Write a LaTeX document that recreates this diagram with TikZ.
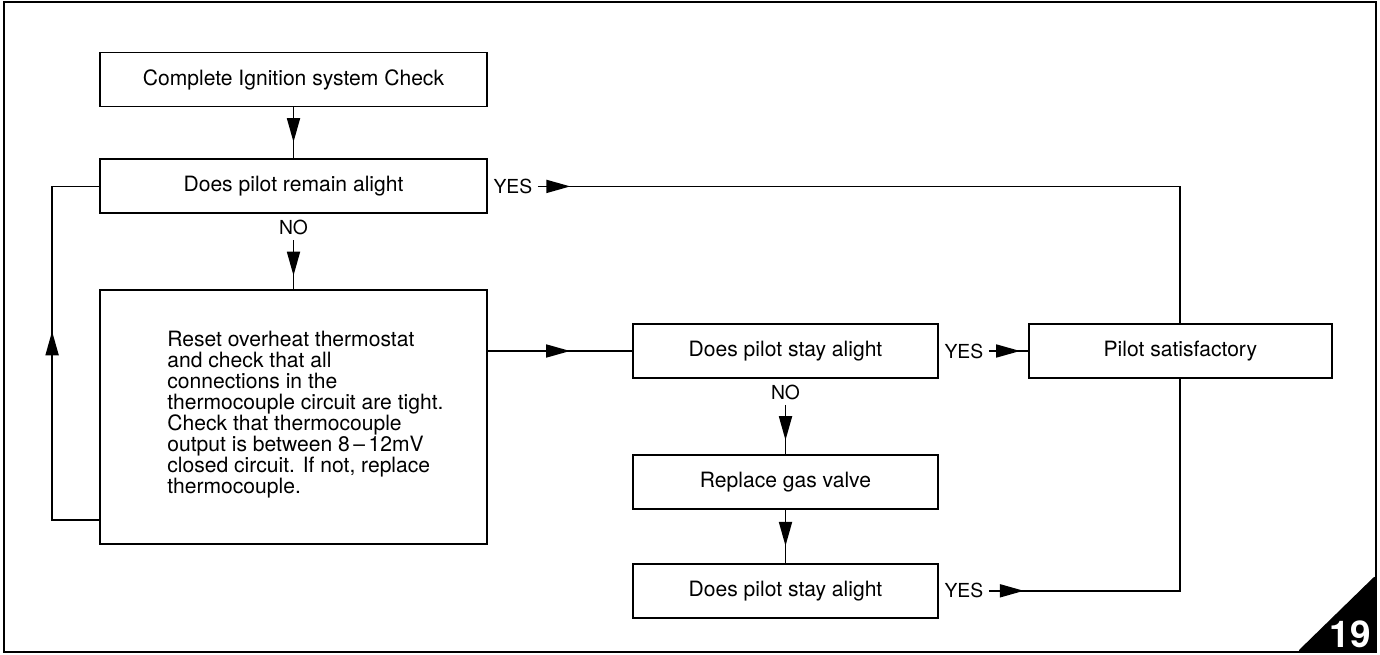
\documentclass[tikz,border=0pt]{standalone}
\usepackage{fontspec}
\setmainfont{TeX Gyre Heros}
\usepackage{tikz}
\usetikzlibrary{positioning, arrows.meta, calc, decorations.markings}

\begin{document}
\begin{tikzpicture}[x=0.02cm, y=-0.02cm, font=\fontsize{12}{12}\selectfont,
 box/.style={draw, line width=1.1pt, minimum height=1.08cm, inner sep=2pt},
 widebox/.style={box, minimum width=7.74cm},
 slimbox/.style={box, minimum width=6.1cm},
 tag/.style={font=\fontsize{11}{11}\selectfont, inner sep=3pt},
 flow/.style={line width=1pt},
 tipat/.style={postaction={decorate, decoration={markings,
   mark=at position #1 with {\arrow{Triangle[length=4.8mm, width=2.6mm]}}}}}]
\useasboundingbox (0,0) rectangle (1380,655);
\draw[line width=1.3pt] (4,2) rectangle (1376,652);

% left column
\node[widebox](chk) at (293.5,79.5){Complete Ignition system Check};
\node[widebox, below=1.02cm of chk](remain){Does pilot remain alight};
\node[widebox, below=1.5cm of remain, minimum height=5.08cm](reset){};
\node[anchor=north west, align=left, inner sep=0pt](resetnote)
  at ([xshift=1.36cm, yshift=-0.82cm]reset.north west)
  {Reset overheat thermostat\\and check that all\\connections in the\\thermocouple circuit are tight.\\Check that thermocouple\\output is between 8\,--\,12mV\\closed circuit. If not, replace\\thermocouple.};

% right columns
\node[slimbox](stay1) at (785.5,351){Does pilot stay alight};
\node[slimbox, below=1.5cm of stay1](gas){Replace gas valve};
\node[slimbox, below=1.06cm of gas](stay2){Does pilot stay alight};
\node[box, minimum width=6.06cm, right=1.78cm of stay1](okay){Pilot satisfactory};

% answers
\node[tag, below=0pt of remain](no1){NO};
\node[tag, below=0pt of stay1](no2){NO};
\node[tag, right=0pt of remain](yes1){YES};
\node[tag, right=0pt of stay1](yes2){YES};
\node[tag, right=0pt of stay2](yes3){YES};

\foreach \a/\b/\p in {chk/remain/0.68,no1/reset/0.72,no2/gas/0.72,gas/stay2/0.68}
  {\draw[flow, tipat=\p](\a)--(\b);}
\draw[flow, tipat=0.57](reset.east |- stay1)--(stay1.west);
\draw[flow, tipat=0.8](yes2)--(okay);
\draw[flow, tipat=0.65cm](yes1.east)--(yes1.east -| okay)--(okay.north);
\draw[flow, tipat=0.7cm](yes3.east)--(yes3.east -| okay)--(okay.south);
\draw[flow, tipat=4.72cm]([yshift=0.5cm]reset.south west)--++(-0.94cm,0)|-(remain.west);

% page badge
\fill[rounded corners=2pt](1297,652)--(1376,652)--(1376,575)--cycle;
\node[text=white, font=\fontsize{21}{21}\bfseries\selectfont, anchor=base east, inner sep=0pt](pagenum) at (1371,647){19};

\end{tikzpicture}
\end{document}
